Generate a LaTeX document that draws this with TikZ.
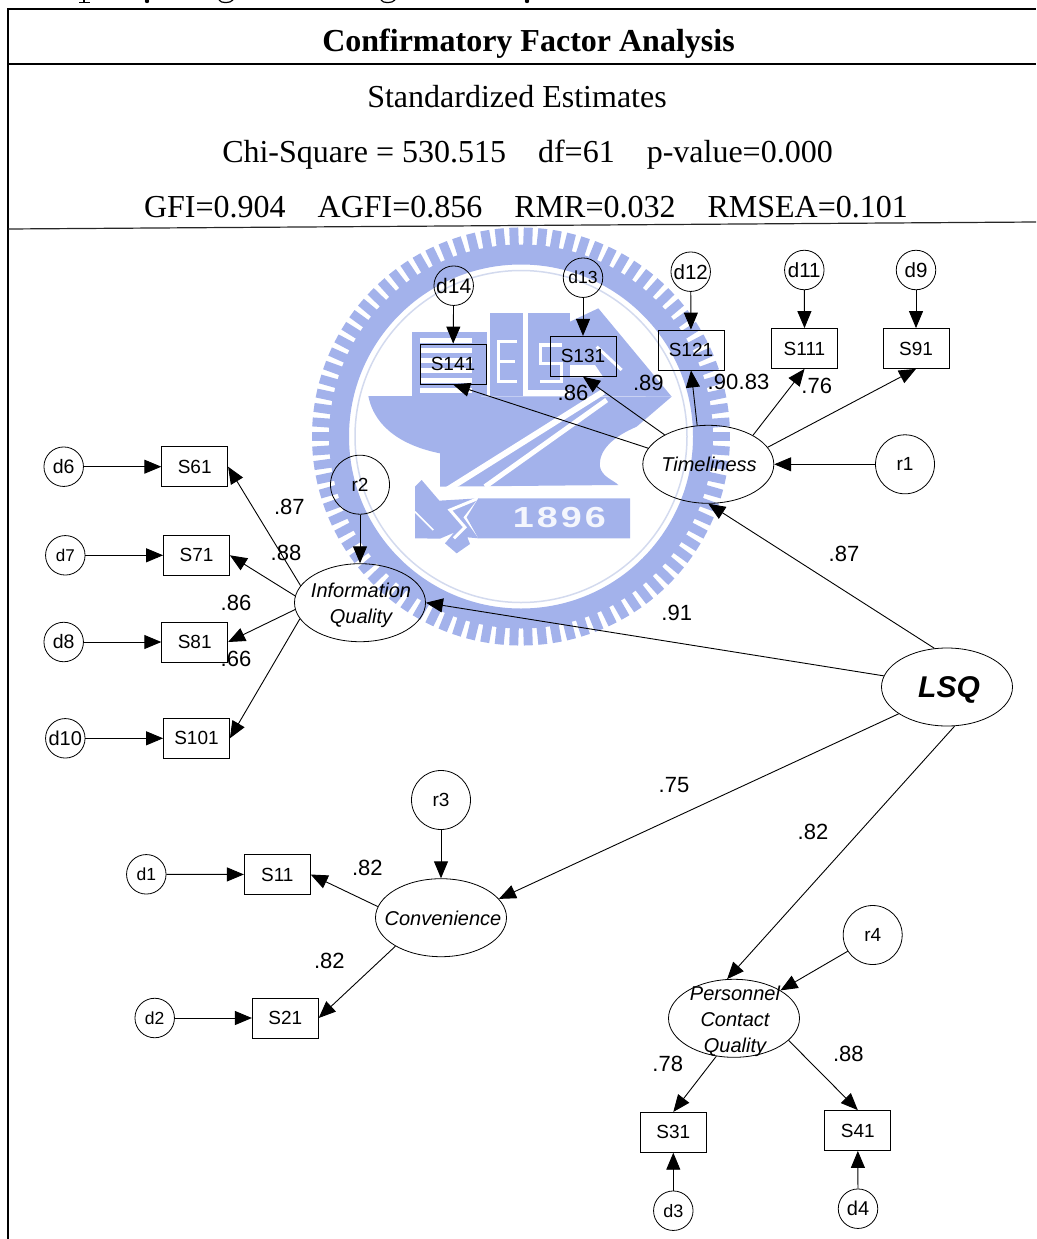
\documentclass[tikz,border=0pt]{standalone}
\usepackage{fontspec}
\setmainfont{Liberation Serif}
\setsansfont{Liberation Sans}
\usetikzlibrary{arrows.meta,shapes.geometric}
\definecolor{wm}{HTML}{A3B2EB}
\definecolor{wmline}{HTML}{D3DAEE}
\newcommand{\fz}[1]{\fontsize{#1}{#1}\selectfont}
\tikzset{
  rectv/.style={draw,rectangle,minimum width=66pt,minimum height=40pt,inner sep=0pt,line width=.8pt,font=\sffamily\fontsize{19}{24}\selectfont},
  errv/.style={draw,circle,minimum size=39.5pt,inner sep=0pt,line width=.8pt,font=\sffamily\fontsize{19}{24}\selectfont},
  resv/.style={draw,circle,minimum size=59pt,inner sep=0pt,line width=.8pt,font=\sffamily\fontsize{19}{24}\selectfont},
  latv/.style={draw,ellipse,minimum width=131pt,minimum height=78pt,inner sep=0pt,line width=.8pt},
  lattext/.style={inner sep=0pt,align=center,font=\sffamily\itshape\fontsize{20}{26}\selectfont},
  coef/.style={inner sep=0pt,font=\sffamily\fontsize{22}{24}\selectfont},
  hdr/.style={inner sep=0pt,anchor=base,font=\rmfamily\fontsize{32}{34}\selectfont},
  arr/.style={line width=.9pt,-{Triangle[length=17pt,width=14pt]}},
  frameline/.style={line width=2pt,black}
}
\begin{document}
\begin{tikzpicture}[x=1pt,y=-1pt]
\useasboundingbox (0,0) rectangle (1036,1239);
% clipped line of text above the frame: only its descenders remain
\fill[black] (82.6,0) rectangle (85.4,2.2);
\draw[line width=.8pt] (79,2.6) -- (90,2.6);
\fill[black] (147,1) circle (2.2pt);
\draw[line width=1.2pt] (219,0) .. controls (221,3.5) and (230,3.5) .. (233,0);
\draw[line width=1.2pt] (381,0) .. controls (383,3.5) and (392,3.5) .. (395,0);
\fill[black] (527,1) circle (2.2pt);
% watermark
\begin{scope}[shift={(521,436.5)}]
  \fill[wm,even odd rule] (0,0) circle (192pt) (0,0) circle (172pt);
  \draw[wmline,line width=1.5pt] (0,0) circle (166pt);
  \foreach \a in {0,4,...,356} \draw[wm,line width=9pt] (\a:188) -- (\a:209);
\end{scope}
\begin{scope}[shift={(350,290)},x=.33333pt,y=-.33333pt]
  % striped box
  \fill[wm] (185,125) rectangle (410,318);
  \foreach \yy in {150,180,210,240,270,300} \draw[white,line width=5pt] (210,\yy) -- (365,\yy);
  % E box and S box, peak
  \fill[wm] (420,68) rectangle (520,318);
  \fill[wm] (535,68) rectangle (660,300);
  \fill[wm] (660,95) -- (745,55) -- (965,320) -- (660,318) -- cycle;
  \draw[white,line width=3.2pt] (500,155) -- (445,155) -- (445,275) -- (500,275) (445,215) -- (495,215);
  \draw[white,line width=3.2pt] (635,165) -- (572,165) -- (572,220) -- (635,220) -- (635,275) -- (570,275);
  \draw[white,line width=3.6pt] (535,306) -- (645,306);
  \fill[white] (660,225) -- (735,225) -- (760,262) -- (660,262) -- cycle;
  \draw[white,line width=3pt] (740,170) -- (815,240);
  % anvil
  \fill[wm] (55,318) -- (965,320) -- (860,410) .. controls (790,440) and (745,480) .. (750,530) .. controls (755,560) and (790,570) .. (805,585) -- (270,590) -- (270,490) .. controls (170,470) and (75,420) .. cycle;
  \draw[white,line width=6pt] (262,618) -- (760,305);
  \draw[white,line width=5pt] (405,590) -- (770,330);
  % hilt
  \fill[wm] (195,590) -- (215,570) -- (268,632) -- (385,625) -- (340,682) -- (385,745) -- (352,742) -- (360,762) -- (320,790) -- (285,760) -- (312,728) -- (270,746) -- (195,745) -- cycle;
  \draw[white,line width=3pt] (385,625) -- (300,660) -- (345,712) -- (312,745);
  \draw[white,line width=1.6pt] (195,665) -- (250,720);
  % plaque
  \fill[wm] (385,625) -- (840,625) -- (840,745) -- (385,745) -- (350,682) -- cycle;
  \node[inner sep=0pt,text=white!88!wm,xscale=1.3] (year) at (628,682) {\fontspec{Liberation Sans}[LetterSpace=8]\bfseries\fz{29}1896};
\end{scope}
% frame
\draw[frameline] (8,1239) -- (8,9) -- (1036,9);
\draw[frameline] (8,64.5) -- (1036,64.5);
\draw[line width=1.2pt,black!85] (8,229) -- (1036,222);
% header
\node[hdr,font=\rmfamily\bfseries\fontsize{32}{34}\selectfont] (title) at (528.5,52) {Confirmatory Factor Analysis};
\node[hdr] (h1) at (517,107) {Standardized Estimates};
\node[hdr] (h2) at (527.5,162) {Chi-Square = 530.515\hspace{32pt}df=61\hspace{32pt}p-value=0.000};
\node[hdr] (h3) at (526,217) {GFI=0.904\hspace{32pt}AGFI=0.856\hspace{32pt}RMR=0.032\hspace{32pt}RMSEA=0.101};
% latent variables
\node[latv] (T) at (708.3,464.3) {};
\node[latv] (IQ) at (360,602.7) {};
\node[latv] (L) at (947,687) {};
\node[latv] (C) at (441,917.7) {};
\node[latv] (P) at (734,1018.3) {};
\node[lattext] (Tt) at (709,464.3) {Timeliness};
\node[lattext] (IQt) at (361,605) {Information\\Quality};
\node[lattext,font=\sffamily\bfseries\itshape\fontsize{30}{32}\selectfont] (Lt) at (949,690) {LSQ};
\node[lattext] (Ct) at (443,918) {Convenience};
\node[lattext] (Pt) at (735,1021) {Personnel\\Contact\\Quality};
% observed variables
\node[rectv] (S141) at (453,364) {S141};
\node[rectv] (S131) at (583,356.3) {S131};
\node[rectv] (S121) at (691,350) {S121};
\node[rectv] (S111) at (804.5,348.5) {S111};
\node[rectv] (S91) at (916,348.5) {S91};
\node[rectv] (S61) at (194.7,466.7) {S61};
\node[rectv] (S71) at (196.5,555.3) {S71};
\node[rectv] (S81) at (194.7,642) {S81};
\node[rectv] (S101) at (196.5,738.3) {S101};
\node[rectv] (S11) at (277.3,874.5) {S11};
\node[rectv] (S21) at (285.3,1018) {S21};
\node[rectv] (S31) at (673.3,1132.3) {S31};
\node[rectv] (S41) at (857.8,1130.5) {S41};
% error terms
\node[errv] (d14) at (453.7,285.7) {\fz{21}d14};
\node[errv] (d13) at (583,277.7) {\fz{17.5}d13};
\node[errv] (d12) at (690.7,271.7) {\fz{20.5}d12};
\node[errv] (d11) at (804.3,270) {\fz{20.5}d11};
\node[errv] (d9) at (916,270) {\fz{20.5}d9};
\node[errv] (d6) at (63.7,466.7) {\fz{19.5}d6};
\node[errv] (d7) at (65.3,555.3) {\fz{17}d7};
\node[errv] (d8) at (63.7,642) {\fz{19.5}d8};
\node[errv] (d10) at (65.3,738.3) {\fz{20}d10};
\node[errv] (d1) at (146.3,874.3) {\fz{17.5}d1};
\node[errv] (d2) at (154.7,1018) {\fz{17.5}d2};
\node[errv] (d3) at (673.3,1210.7) {\fz{18}d3};
\node[errv] (d4) at (858,1208.7) {\fz{20}d4};
\node[resv] (r1) at (905,464.3) {r1};
\node[resv] (r2) at (360,484.7) {r2};
\node[resv] (r3) at (441,800) {r3};
\node[resv] (r4) at (872.7,935) {r4};
% connectors
\draw[arr] (d14) -- (S141);
\draw[arr] (d13) -- (S131);
\draw[arr] (d12) -- (S121);
\draw[arr] (d11.south) -- (S111.north);
\draw[arr] (d9) -- (S91);
\draw[arr] (T.165) -- (S141.south);
\draw[arr] (T.146) -- (S131.south);
\draw[arr] (T.106) -- (S121.south);
\draw[arr] (T.33) -- (S111.south);
\draw[arr] (T.16) -- (S91.south);
\draw[arr] (r1) -- (T);
\draw[arr] (L.108) -- (T.south);
\draw[arr] (L.170) -- (IQ.east);
\draw[arr] (L.209) -- (C.18);
\draw[arr] (L.281) -- (P.100);
\draw[arr] (r4.213) -- (P.31);
\draw[arr] (P.245) -- (S31.north);
\draw[arr] (P.338) -- (S41.north);
\draw[arr] (d3) -- (S31);
\draw[arr] (d4) -- (S41);
\draw[arr] (C.170) -- (S11.east);
\draw[arr] (C.212) -- (S21.east);
\draw[arr] (r3) -- (C);
\draw[arr] (d1) -- (S11);
\draw[arr] (d2) -- (S21);
\draw[arr] (IQ.164) -- (S61.east);
\draw[arr] (IQ.174) -- (S71.east);
\draw[arr] (IQ.186) -- (S81.east);
\draw[arr] (IQ.195) -- (S101.east);
\draw[arr] (r2) -- (IQ);
\draw[arr] (d6) -- (S61);
\draw[arr] (d7) -- (S71);
\draw[arr] (d8) -- (S81);
\draw[arr] (d10) -- (S101);
% coefficients
\node[coef] (c1) at (573,393) {.86};
\node[coef] (c2) at (648.3,383) {.89};
\node[coef] (c3) at (723,381.7) {.90};
\node[coef] (c4) at (754,381.7) {.83};
\node[coef] (c5) at (816.7,385.7) {.76};
\node[coef] (c6) at (289.3,507.3) {.87};
\node[coef] (c7) at (286,553.3) {.88};
\node[coef] (c8) at (236,602.7) {.86};
\node[coef] (c9) at (236,658.7) {.66};
\node[coef] (c10) at (676.7,613) {.91};
\node[coef] (c11) at (844,554) {.87};
\node[coef] (c12) at (674,785) {.75};
\node[coef] (c13) at (813,832) {.82};
\node[coef] (c14) at (367.3,868.3) {.82};
\node[coef] (c15) at (329.3,960.7) {.82};
\node[coef] (c16) at (667.7,1064) {.78};
\node[coef] (c17) at (848.3,1054.3) {.88};
\end{tikzpicture}
\end{document}
